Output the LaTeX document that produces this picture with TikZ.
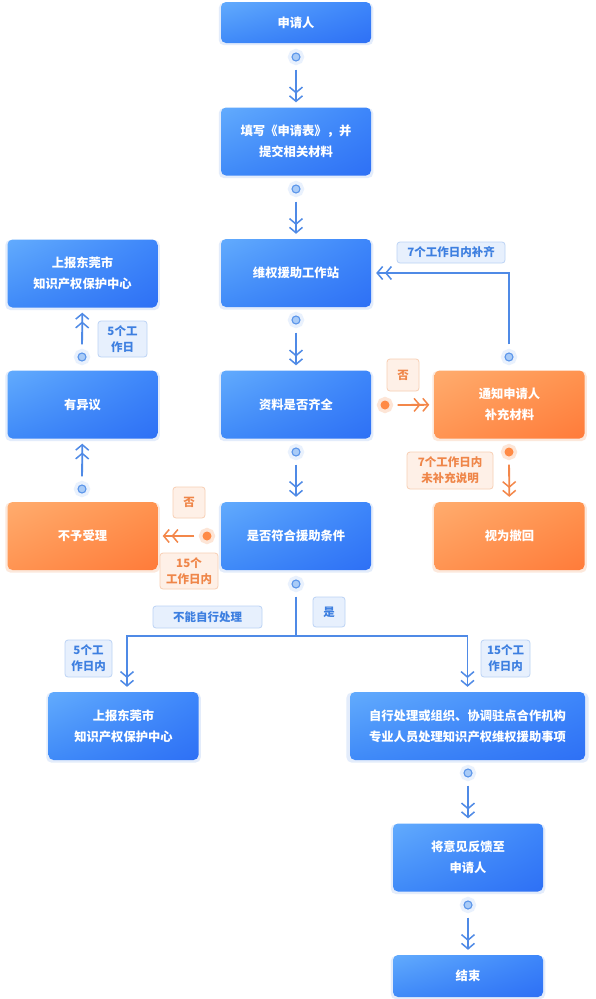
\documentclass[tikz,border=0pt]{standalone}
\usepackage{fontspec}
\setmainfont{Noto Sans CJK SC}
\usetikzlibrary{arrows.meta,shadows,shadings}
\definecolor{bUL}{HTML}{62ABFD}
\definecolor{bUR}{HTML}{3D86FA}
\definecolor{bLL}{HTML}{3F8AF8}
\definecolor{bLR}{HTML}{2E70F5}
\definecolor{oUL}{HTML}{FFAC6E}
\definecolor{oUR}{HTML}{FF934F}
\definecolor{oLL}{HTML}{FF9452}
\definecolor{oLR}{HTML}{FF7B3A}
\definecolor{lineB}{HTML}{4F8AE6}
\definecolor{lineO}{HTML}{F3874A}
\definecolor{haloB}{HTML}{E9F1FD}
\definecolor{haloO}{HTML}{FDE5D6}
\definecolor{dotB}{HTML}{A9CBF7}
\definecolor{dotBd}{HTML}{5B95EA}
\definecolor{dotO}{HTML}{FF8A45}
\definecolor{lbF}{HTML}{E7F0FD}
\definecolor{lbD}{HTML}{BCD3F5}
\definecolor{lbT}{HTML}{3D7FE0}
\definecolor{loF}{HTML}{FEF0E7}
\definecolor{loD}{HTML}{F8CFB4}
\definecolor{loT}{HTML}{EF8649}
\definecolor{glowB}{HTML}{DCE8FB}
\definecolor{glowO}{HTML}{FCE3D3}
\tikzset{
  boxbase/.style={rounded corners=5pt, minimum width=150pt, minimum height=68pt, inner sep=0pt,
    align=center, text=white, font=\fontsize{12.3pt}{21pt}\selectfont\bfseries},
  bbox/.style={boxbase, upper left=bUL, upper right=bUR, lower left=bLL, lower right=bLR,
    drop shadow={shadow xshift=0pt, shadow yshift=-1.5pt, fill=glowB, opacity=0.8, shadow scale=1.03}},
  obox/.style={boxbase, upper left=oUL, upper right=oUR, lower left=oLL, lower right=oLR,
    drop shadow={shadow xshift=0pt, shadow yshift=-1.5pt, fill=glowO, opacity=0.8, shadow scale=1.03}},
  dotb/.style={circle, inner sep=0pt, minimum size=8pt, fill=dotB, draw=dotBd, line width=1.1pt,
    preaction={draw=haloB, line width=8pt}},
  doto/.style={circle, inner sep=0pt, minimum size=9pt, fill=dotO,
    preaction={draw=haloO, fill=haloO, line width=7pt}},
  chev/.tip={Straight Barb[length=5.5pt, width=13pt, line width=1.5pt, sep=1.5pt] Straight Barb[length=5.5pt, width=13pt, line width=1.5pt]},
  conn/.style={draw=lineB, line width=1.8pt, -{chev}, shorten <=8pt, shorten >=5pt},
  conno/.style={draw=lineO, line width=1.8pt, -{chev}, shorten <=8pt, shorten >=5pt},
  lblb/.style={rounded corners=3pt, fill=lbF, draw=lbD, line width=0.8pt, text=lbT, inner sep=0pt,
    align=center, font=\fontsize{11.5pt}{16pt}\selectfont\bfseries},
  lblo/.style={rounded corners=3pt, fill=loF, draw=loD, line width=0.8pt, text=loT, inner sep=0pt,
    align=center, font=\fontsize{11.5pt}{16pt}\selectfont\bfseries},
}
\begin{document}
\begin{tikzpicture}[x=1pt, y=-1pt]
\useasboundingbox[fill=white] (0,0) rectangle (595,999);
% main column
\node[bbox, minimum height=41pt] (n1) at (296,22.5) {申请人};
\node[bbox] (n2) at (296,141.5) {填写《申请表》，并\\提交相关材料};
\node[bbox] (n3) at (296,273) {维权援助工作站};
\node[bbox] (n4) at (296,404.5) {资料是否齐全};
\node[bbox] (n5) at (296,536) {是否符合援助条件};
% left column
\node[bbox] (tl) at (82.5,273.5) {上报东莞市\\知识产权保护中心};
\node[bbox] (yy) at (82.5,404.5) {有异议};
\node[obox] (bs) at (82.5,536) {不予受理};
% right column
\node[obox] (tz) at (509.5,404.5) {通知申请人\\补充材料};
\node[obox] (ch) at (509.5,536) {视为撤回};
% bottom
\node[bbox] (bl) at (123.5,726) {上报东莞市\\知识产权保护中心};
\node[bbox, minimum width=235pt] (zx) at (467.5,726) {自行处理或组织、协调驻点合作机构\\专业人员处理知识产权维权援助事项};
\node[bbox] (fk) at (468,857.5) {将意见反馈至\\申请人};
\node[bbox, minimum height=42pt] (js) at (468,976) {结束};
% dots
\node[dotb] (d1) at (296,57) {};
\node[dotb] (d2) at (296,189) {};
\node[dotb] (d3) at (296,320) {};
\node[dotb] (d4) at (296,452) {};
\node[dotb] (d5) at (296,584) {};
\node[dotb] (d6) at (82,357) {};
\node[dotb] (d7) at (82,489) {};
\node[doto] (d8) at (207,536) {};
\node[doto] (d9) at (385,405) {};
\node[dotb] (d10) at (509,357) {};
\node[doto] (d11) at (509,452) {};
\node[dotb] (d12) at (468,773) {};
\node[dotb] (d13) at (468,905) {};
\coordinate (j) at (296,636);
% connectors
\draw[conn] (d1) -- (n2);
\draw[conn] (d2) -- (n3);
\draw[conn] (d3) -- (n4);
\draw[conn] (d4) -- (n5);
\draw[conn] (d6) -- (tl);
\draw[conn] (d7) -- (yy);
\draw[conno] (d8) -- (bs);
\draw[conno] (d9) -- (tz);
\draw[conn] (d10) |- (n3.east);
\draw[conno] (d11) -- (ch);
\draw[conn] (d12) -- (fk);
\draw[conn] (d13) -- (js);
\draw[draw=lineB, line width=1.8pt, shorten <=8pt] (d5) -- (j);
\draw[conn, shorten <=0pt] (j) -| ([xshift=3.5pt]bl.north);
\draw[conn, shorten <=0pt] (j) -| (zx.north);
% labels
\node[lblb, minimum width=108pt, minimum height=21pt] (l1) at (451,252.5) {7个工作日内补齐};
\node[lblb, minimum width=49pt, minimum height=36pt] (l2) at (122.5,339) {5个工\\作日};
\node[lblo, minimum width=32pt, minimum height=32pt] (l3) at (403,375) {否};
\node[lblo, minimum width=32pt, minimum height=31pt] (l4) at (189,502.5) {否};
\node[lblo, minimum width=58pt, minimum height=36pt] (l5) at (189,571) {15个\\工作日内};
\node[lblo, minimum width=86pt, minimum height=37pt] (l6) at (450,470.5) {7个工作日内\\未补充说明};
\node[lblb, minimum width=109pt, minimum height=22pt] (l7) at (207.5,617) {不能自行处理};
\node[lblb, minimum width=32pt, minimum height=30pt] (l8) at (329,612) {是};
\node[lblb, minimum width=47pt, minimum height=37pt] (l9) at (88.5,658.5) {5个工\\作日内};
\node[lblb, minimum width=49pt, minimum height=37pt] (l10) at (505.5,658.5) {15个工\\作日内};
\end{tikzpicture}
\end{document}
